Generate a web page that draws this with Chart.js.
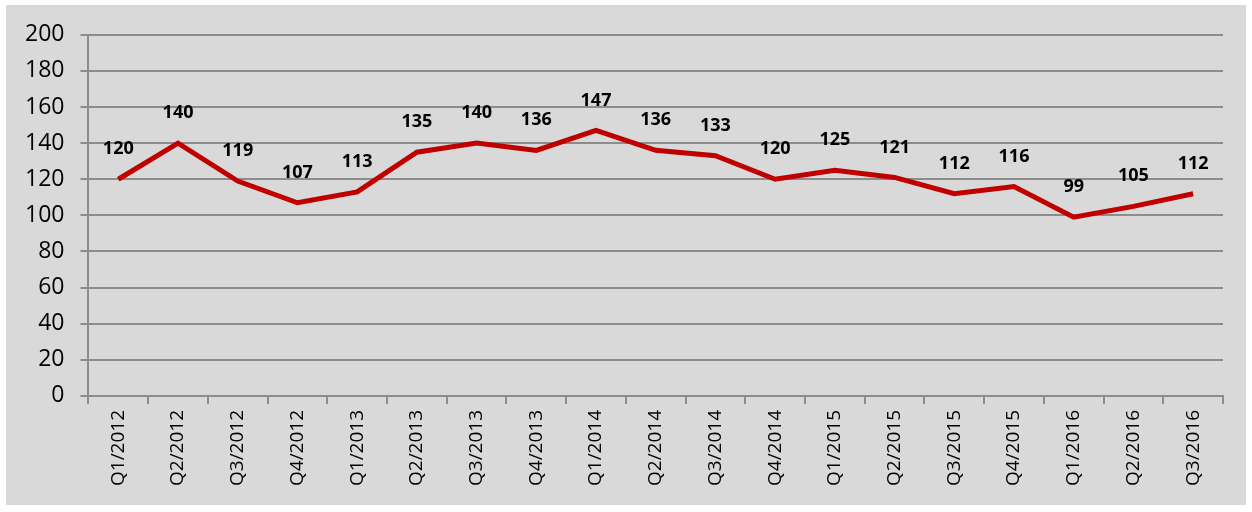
<!DOCTYPE html>
<html>
<head>
<meta charset="utf-8">
<script src="https://cdn.jsdelivr.net/npm/chart.js@4"></script>
<style>
  body { margin: 0; background: #fff; }
  #wrap { position: absolute; left: 6px; top: 5px; width: 1240px; height: 500px; background: #d9d9d9; }
</style>
</head>
<body>
<div id="wrap"><canvas id="myChart" width="1240" height="500"></canvas></div>
<script>
const quarters = ['Q1/2012', 'Q2/2012', 'Q3/2012', 'Q4/2012', 'Q1/2013', 'Q2/2013', 'Q3/2013', 'Q4/2013',
    'Q1/2014', 'Q2/2014', 'Q3/2014', 'Q4/2014', 'Q1/2015', 'Q2/2015', 'Q3/2015', 'Q4/2015',
    'Q1/2016', 'Q2/2016', 'Q3/2016'];
const values = [120, 140, 119, 107, 113, 135, 140, 136, 147, 136, 133, 120, 125, 121, 112, 116, 99, 105, 112];
const yTicks = { min: 0, max: 200, step: 20 };

// draws the value above every point
const valueLabels = {
    id: 'valueLabels',
    afterDatasetsDraw(chart) {
        const { ctx } = chart;
        const meta = chart.getDatasetMeta(0);
        ctx.save();
        ctx.font = 'bold 18px "Open Sans", sans-serif';
        ctx.fillStyle = '#000';
        ctx.textAlign = 'center';
        ctx.textBaseline = 'middle';
        meta.data.forEach((point, i) => {
            ctx.fillText(String(values[i]), point.x, point.y - 30);
        });
        ctx.restore();
    }
};

const ctx = document.getElementById('myChart').getContext('2d');
new Chart(ctx, {
    type: 'line',
    data: {
        labels: quarters,
        datasets: [{
            data: values,
            borderColor: '#c00000',
            borderWidth: 5,
            pointRadius: 0,
            tension: 0,
        }]
    },
    options: {
        responsive: false,
        animation: false,
        layout: { padding: { top: 15, right: 23, left: 3, bottom: 13 } },
        plugins: { legend: { display: false }, tooltip: { enabled: false } },
        scales: {
            x: {
                offset: true,
                grid: { offset: true, drawOnChartArea: false, drawTicks: true, tickLength: 8, color: '#8c8c8c', lineWidth: 2 },
                border: { color: '#8c8c8c', width: 2 },
                ticks: {
                    minRotation: 90, maxRotation: 90, padding: 6,
                    color: '#000',
                    font: { family: '"Open Sans", sans-serif', size: 19 },
                },
            },
            y: {
                min: yTicks.min,
                max: yTicks.max,
                grid: { color: '#8c8c8c', lineWidth: 2, tickLength: 8 },
                border: { color: '#8c8c8c', width: 2 },
                ticks: {
                    stepSize: yTicks.step,
                    padding: 16,
                    color: '#000',
                    font: { family: '"Open Sans", sans-serif', size: 23 },
                },
            }
        }
    },
    plugins: [valueLabels],
});
</script>
</body>
</html>
